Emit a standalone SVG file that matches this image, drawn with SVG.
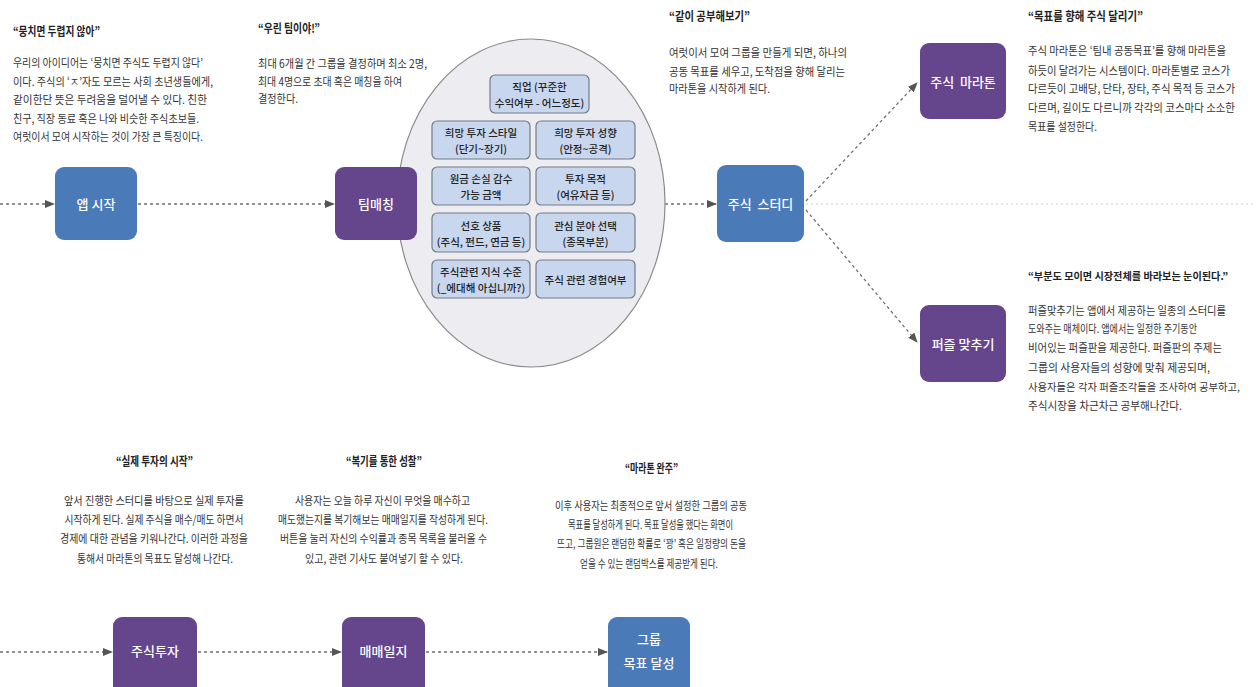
<svg xmlns="http://www.w3.org/2000/svg" width="1256" height="687" viewBox="0 0 1256 687">
  <style>
    .bg { fill: #ffffff; }
    .node-blue { fill: #4a7ab7; }
    .node-purple { fill: #65468d; }
    .label { font-family: "Noto Sans CJK KR", "Noto Sans", sans-serif; font-size: 13px; font-weight: 500; fill: #ffffff; text-anchor: middle; dominant-baseline: central; }
    .head { font-family: "Noto Sans CJK KR", "Noto Sans", sans-serif; font-size: 12px; font-weight: 700; fill: #222222; dominant-baseline: central; }
    .body { font-family: "Noto Sans CJK KR", "Noto Sans", sans-serif; font-size: 11.5px; fill: #333333; dominant-baseline: central; }
    .small { font-size: 10.5px; }
    .mid { text-anchor: middle; }
    .item { fill: #c8d7ee; stroke: #737c88; stroke-width: 1.2; }
    .item-text { font-family: "Noto Sans CJK KR", "Noto Sans", sans-serif; font-size: 10.5px; font-weight: 500; fill: #222222; text-anchor: middle; dominant-baseline: central; }
    .flow { fill: none; stroke: #6f6f6f; stroke-width: 1.3; stroke-dasharray: 3 3; }
    .faint { fill: none; stroke: #d0d0d0; stroke-width: 1; stroke-dasharray: 2 3; }
  </style>
  <defs>
    <marker id="arrow" markerUnits="userSpaceOnUse" markerWidth="10" markerHeight="8" refX="9" refY="4" orient="auto">
      <path d="M0,0 L10,4 L0,8 Z" fill="#555555"/>
    </marker>
  </defs>

  <rect class="bg" x="0" y="0" width="1256" height="687"/>

  <!-- connectors -->
  <g id="connectors">
    <line class="faint" x1="806" y1="204" x2="1256" y2="204"/>
    <line class="flow" x1="0" y1="204" x2="54" y2="204" marker-end="url(#arrow)"/>
    <line class="flow" x1="138" y1="204" x2="334" y2="204" marker-end="url(#arrow)"/>
    <line class="flow" x1="665" y1="204" x2="716" y2="204" marker-end="url(#arrow)"/>
    <line class="flow" x1="806" y1="201" x2="917" y2="83" marker-end="url(#arrow)"/>
    <line class="flow" x1="806" y1="210" x2="917" y2="342" marker-end="url(#arrow)"/>
    <line class="flow" x1="0" y1="652" x2="112" y2="652" marker-end="url(#arrow)"/>
    <line class="flow" x1="198" y1="652" x2="341" y2="652" marker-end="url(#arrow)"/>
    <line class="flow" x1="426" y1="652" x2="607" y2="652" marker-end="url(#arrow)"/>
  </g>

  <!-- team matching criteria -->
  <g id="criteria">
    <ellipse cx="531" cy="203" rx="134" ry="164" fill="#ededf1" stroke="#8a8a8a" stroke-width="1.2"/>
    <rect class="item" x="490" y="75" width="99" height="38" rx="5"/>
    <text class="item-text" x="539.5" y="86">직업 (꾸준한</text>
    <text class="item-text" x="539.5" y="102">수익여부 - 어느정도)</text>

    <rect class="item" x="432" y="121" width="98" height="38" rx="5"/>
    <text class="item-text" x="481" y="132">희망 투자 스타일</text>
    <text class="item-text" x="481" y="148">(단기~장기)</text>
    <rect class="item" x="536" y="121" width="99" height="38" rx="5"/>
    <text class="item-text" x="585.5" y="132">희망 투자 성향</text>
    <text class="item-text" x="585.5" y="148">(안정~공격)</text>

    <rect class="item" x="432" y="167" width="98" height="38" rx="5"/>
    <text class="item-text" x="481" y="178">원금 손실 감수</text>
    <text class="item-text" x="481" y="194">가능 금액</text>
    <rect class="item" x="536" y="167" width="99" height="38" rx="5"/>
    <text class="item-text" x="585.5" y="178">투자 목적</text>
    <text class="item-text" x="585.5" y="194">(여유자금 등)</text>

    <rect class="item" x="432" y="213" width="98" height="39" rx="5"/>
    <text class="item-text" x="481" y="225">선호 상품</text>
    <text class="item-text" x="481" y="241">(주식, 펀드, 연금 등)</text>
    <rect class="item" x="536" y="213" width="99" height="39" rx="5"/>
    <text class="item-text" x="585.5" y="225">관심 분야 선택</text>
    <text class="item-text" x="585.5" y="241">(종목부분)</text>

    <rect class="item" x="432" y="260" width="98" height="38" rx="5"/>
    <text class="item-text" x="481" y="271">주식관련 지식 수준</text>
    <text class="item-text" x="481" y="287">(_에대해 아십니까?)</text>
    <rect class="item" x="536" y="260" width="99" height="38" rx="5"/>
    <text class="item-text" x="585.5" y="279">주식 관련 경험여부</text>
  </g>

  <!-- nodes -->
  <g id="node-app-start">
    <rect class="node-blue" x="55" y="167" width="82" height="73" rx="9"/>
    <text class="label" x="96" y="203.5">앱 시작</text>
  </g>
  <g id="node-team-matching">
    <rect class="node-purple" x="335" y="167" width="82" height="73" rx="9"/>
    <text class="label" x="376" y="203.5">팀매칭</text>
  </g>
  <g id="node-study">
    <rect class="node-blue" x="717" y="165" width="87" height="77" rx="9"/>
    <text class="label" x="760.5" y="203.5" xml:space="preserve">주식  스터디</text>
  </g>
  <g id="node-marathon">
    <rect class="node-purple" x="920" y="43" width="86" height="76" rx="9"/>
    <text class="label" x="963" y="81" xml:space="preserve">주식  마라톤</text>
  </g>
  <g id="node-puzzle">
    <rect class="node-purple" x="920" y="305" width="86" height="77" rx="9"/>
    <text class="label" x="963" y="343.5">퍼즐 맞추기</text>
  </g>
  <g id="node-invest">
    <rect class="node-purple" x="113" y="617" width="84" height="80" rx="9"/>
    <text class="label" x="155" y="650">주식투자</text>
  </g>
  <g id="node-journal">
    <rect class="node-purple" x="342" y="617" width="83" height="80" rx="9"/>
    <text class="label" x="383.5" y="650">매매일지</text>
  </g>
  <g id="node-goal">
    <rect class="node-blue" x="608" y="617" width="82" height="80" rx="9"/>
    <text class="label" x="649" y="638">그룹</text>
    <text class="label" x="649" y="662">목표 달성</text>
  </g>

  <!-- descriptions -->
  <g id="desc-start">
    <text class="head" x="13" y="30" textLength="87" lengthAdjust="spacingAndGlyphs">“뭉치면 두렵지 않아”</text>
    <text class="body" x="13" y="62" textLength="190" lengthAdjust="spacingAndGlyphs">우리의 아이디어는 ‘뭉치면 주식도 두렵지 않다’</text>
    <text class="body" x="13" y="81" textLength="200" lengthAdjust="spacingAndGlyphs">이다. 주식의 ‘ㅈ’자도 모르는 사회 초년생들에게,</text>
    <text class="body" x="13" y="99" textLength="194" lengthAdjust="spacingAndGlyphs">같이한단 뜻은 두려움을 덜어낼 수 있다. 친한</text>
    <text class="body" x="13" y="118" textLength="186" lengthAdjust="spacingAndGlyphs">친구, 직장 동료 혹은 나와 비슷한 주식초보들.</text>
    <text class="body" x="13" y="136" textLength="190" lengthAdjust="spacingAndGlyphs">여럿이서 모여 시작하는 것이 가장 큰 특징이다.</text>
  </g>
  <g id="desc-team">
    <text class="head" x="258" y="27" textLength="62" lengthAdjust="spacingAndGlyphs">“우린 팀이야!”</text>
    <text class="body" x="258" y="63" textLength="169" lengthAdjust="spacingAndGlyphs">최대 6개월 간 그룹을 결정하며 최소 2명,</text>
    <text class="body" x="258" y="81" textLength="144" lengthAdjust="spacingAndGlyphs">최대 4명으로 초대 혹은 매칭을 하여</text>
    <text class="body" x="258" y="98" textLength="40" lengthAdjust="spacingAndGlyphs">결정한다.</text>
  </g>
  <g id="desc-study">
    <text class="head" x="669" y="15" textLength="81" lengthAdjust="spacingAndGlyphs">“같이 공부해보기”</text>
    <text class="body" x="669" y="52" textLength="178" lengthAdjust="spacingAndGlyphs">여럿이서 모여 그룹을 만들게 되면, 하나의</text>
    <text class="body" x="669" y="71" textLength="176" lengthAdjust="spacingAndGlyphs">공동 목표를 세우고, 도착점을 향해 달리는</text>
    <text class="body" x="669" y="88" textLength="101" lengthAdjust="spacingAndGlyphs">마라톤을 시작하게 된다.</text>
  </g>
  <g id="desc-marathon">
    <text class="head" x="1028" y="15" textLength="115" lengthAdjust="spacingAndGlyphs">“목표를 향해 주식 달리기”</text>
    <text class="body" x="1028" y="50" textLength="198" lengthAdjust="spacingAndGlyphs">주식 마라톤은 ‘팀내 공동목표’를 향해 마라톤을</text>
    <text class="body" x="1028" y="70" textLength="202" lengthAdjust="spacingAndGlyphs">하듯이 달려가는 시스템이다. 마라톤별로 코스가</text>
    <text class="body" x="1028" y="88" textLength="207" lengthAdjust="spacingAndGlyphs">다르듯이 고배당, 단타, 장타, 주식 목적 등 코스가</text>
    <text class="body" x="1028" y="107" textLength="207" lengthAdjust="spacingAndGlyphs">다르며, 길이도 다르니까 각각의 코스마다 소소한</text>
    <text class="body" x="1028" y="126" textLength="69" lengthAdjust="spacingAndGlyphs">목표를 설정한다.</text>
  </g>
  <g id="desc-puzzle">
    <text class="head small" x="1028" y="275" textLength="200" lengthAdjust="spacingAndGlyphs">“부분도 모이면 시장전체를 바라보는 눈이된다.”</text>
    <text class="body" x="1028" y="310" textLength="198" lengthAdjust="spacingAndGlyphs">퍼즐맞추기는 앱에서 제공하는 일종의 스터디를</text>
    <text class="body" x="1028" y="328" textLength="169" lengthAdjust="spacingAndGlyphs">도와주는 매체이다. 앱에서는 일정한 주기동안</text>
    <text class="body" x="1028" y="347" textLength="194" lengthAdjust="spacingAndGlyphs">비어있는 퍼즐판을 제공한다. 퍼즐판의 주제는</text>
    <text class="body" x="1028" y="367" textLength="182" lengthAdjust="spacingAndGlyphs">그룹의 사용자들의 성향에 맞춰 제공되며,</text>
    <text class="body small" x="1028" y="386" textLength="212" lengthAdjust="spacingAndGlyphs">사용자들은 각자 퍼즐조각들을 조사하여 공부하고,</text>
    <text class="body" x="1028" y="405" textLength="154" lengthAdjust="spacingAndGlyphs">주식시장을 차근차근 공부해나간다.</text>
  </g>
  <g id="desc-invest">
    <text class="head mid" x="154.5" y="460" textLength="77" lengthAdjust="spacingAndGlyphs">“실제 투자의 시작”</text>
    <text class="body mid" x="154" y="500" textLength="180" lengthAdjust="spacingAndGlyphs">앞서 진행한 스터디를 바탕으로 실제 투자를</text>
    <text class="body mid" x="154" y="519" textLength="179" lengthAdjust="spacingAndGlyphs">시작하게 된다. 실제 주식을 매수/매도 하면서</text>
    <text class="body mid" x="154" y="538" textLength="188" lengthAdjust="spacingAndGlyphs">경제에 대한 관념을 키워나간다. 이러한 과정을</text>
    <text class="body mid" x="155" y="558" textLength="156" lengthAdjust="spacingAndGlyphs">통해서 마라톤의 목표도 달성해 나간다.</text>
  </g>
  <g id="desc-journal">
    <text class="head mid" x="384" y="460" textLength="76" lengthAdjust="spacingAndGlyphs">“복기를 통한 성찰”</text>
    <text class="body mid" x="382.5" y="500" textLength="175" lengthAdjust="spacingAndGlyphs">사용자는 오늘 하루 자신이 무엇을 매수하고</text>
    <text class="body mid" x="383" y="519" textLength="210" lengthAdjust="spacingAndGlyphs">매도했는지를 복기해보는 매매일지를 작성하게 된다.</text>
    <text class="body mid" x="383.5" y="538" textLength="207" lengthAdjust="spacingAndGlyphs">버튼을 눌러 자신의 수익률과 종목 목록을 불러올 수</text>
    <text class="body mid" x="384" y="558" textLength="158" lengthAdjust="spacingAndGlyphs">있고, 관련 기사도 붙여넣기 할 수 있다.</text>
  </g>
  <g id="desc-goal">
    <text class="head mid" x="651.5" y="467" textLength="53" lengthAdjust="spacingAndGlyphs">“마라톤 완주”</text>
    <text class="body mid" x="651" y="505" textLength="192" lengthAdjust="spacingAndGlyphs">이후 사용자는 최종적으로 앞서 설정한 그룹의 공동</text>
    <text class="body mid" x="650.5" y="524" textLength="165" lengthAdjust="spacingAndGlyphs">목표를 달성하게 된다. 목표 달성을 했다는 화면이</text>
    <text class="body mid" x="651.5" y="543" textLength="189" lengthAdjust="spacingAndGlyphs">뜨고, 그룹원은 랜덤한 확률로 ‘꽝’ 혹은 일정량의 돈을</text>
    <text class="body mid" x="649" y="563" textLength="138" lengthAdjust="spacingAndGlyphs">얻을 수 있는 랜덤박스를 제공받게 된다.</text>
  </g>
</svg>
